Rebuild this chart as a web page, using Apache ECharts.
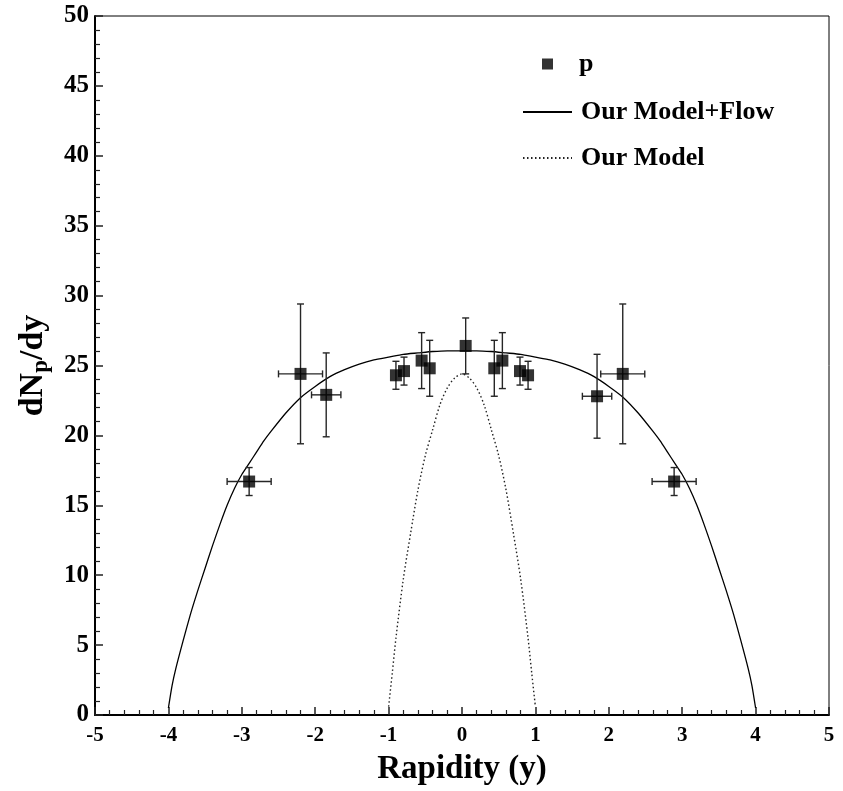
<!DOCTYPE html>
<html>
<head>
<meta charset="utf-8">
<script src="https://cdn.jsdelivr.net/npm/echarts@6/dist/echarts.min.js"></script>
<style>
  html, body { margin: 0; padding: 0; background: #fff; }
  #chart { width: 843px; height: 791px; }
</style>
</head>
<body>
<div id="chart"></div>
<script>
// measured points (proton rapidity distribution)
var rapidity = [-2.9, -2.2, -1.85, -0.9, -0.79, -0.55, -0.44, 0.05, 0.44, 0.55, 0.79, 0.9, 1.84, 2.19, 2.89];
var dndy     = [16.7, 24.4, 22.9, 24.3, 24.6, 25.35, 24.8, 26.4, 24.8, 25.35, 24.6, 24.3, 22.8, 24.4, 16.7];
var yErr     = [1.0, 5.0, 3.0, 1.0, 1.0, 2.0, 2.0, 2.0, 2.0, 2.0, 1.0, 1.0, 3.0, 5.0, 1.0];
var xErr     = [0.3, 0.3, 0.2, 0, 0, 0, 0, 0, 0, 0, 0, 0, 0.2, 0.3, 0.3];

// Our Model+Flow curve
var flowX = [-4.0, -3.95, -3.9, -3.8, -3.7, -3.6, -3.5, -3.4, -3.3, -3.2, -3.1, -3.0, -2.9, -2.8, -2.7, -2.6, -2.4, -2.2, -2.0, -1.8, -1.6, -1.4, -1.2, -1.0, -0.8, -0.6, -0.4, -0.2, 0,
             0.2, 0.4, 0.6, 0.8, 1.0, 1.2, 1.4, 1.6, 1.8, 2.0, 2.2, 2.4, 2.6, 2.7, 2.8, 2.9, 3.0, 3.1, 3.2, 3.3, 3.4, 3.5, 3.6, 3.7, 3.8, 3.9, 3.95, 4.0];
var flowY = [0.5, 2.1, 3.3, 5.3, 7.2, 8.9, 10.5, 12.1, 13.6, 15.0, 16.2, 17.2, 18.0, 18.8, 19.6, 20.3, 21.6, 22.7, 23.5, 24.2, 24.7, 25.1, 25.4, 25.6, 25.8, 25.9, 26.0, 26.05, 26.05,
             26.05, 26.0, 25.9, 25.8, 25.6, 25.4, 25.1, 24.7, 24.2, 23.5, 22.7, 21.6, 20.3, 19.6, 18.8, 18.0, 17.2, 16.2, 15.0, 13.6, 12.1, 10.5, 8.9, 7.2, 5.3, 3.3, 2.1, 0.5];

// Our Model curve (no flow)
var modelX = [-1.0, -0.95, -0.9, -0.8, -0.7, -0.6, -0.5, -0.4, -0.3, -0.2, -0.1, 0, 0.1, 0.2, 0.3, 0.4, 0.5, 0.6, 0.7, 0.8, 0.9, 0.95, 1.0];
var modelY = [0.6, 3.0, 5.5, 9.7, 13.0, 16.1, 18.55, 20.4, 22.2, 23.4, 24.1, 24.4, 24.1, 23.4, 22.2, 20.4, 18.55, 16.1, 13.0, 9.7, 5.5, 3.0, 0.6];

var xTicks = [-5, -4, -3, -2, -1, 0, 1, 2, 3, 4, 5];
var yTicks = [0, 5, 10, 15, 20, 25, 30, 35, 40, 45, 50];

var FONT = '"Liberation Serif", "Times New Roman", serif';

function zip(a, b) {
    return a.map(function(v, i) { return [v, b[i]]; });
}

var errData = rapidity.map(function(x, i) { return [x, dndy[i], xErr[i], yErr[i]]; });

var legendText = { fontFamily: FONT, fontWeight: 'bold', fontSize: 26, color: '#000' };

var option = {
    animation: false,
    backgroundColor: '#fff',
    grid: {
        left: 95, top: 16, right: 14, bottom: 73,
        show: true, borderColor: '#000', borderWidth: 1, backgroundColor: 'transparent'
    },
    legend: [{
        data: ['p'], left: 542, top: 51, padding: 0, icon: 'rect', itemWidth: 11, itemHeight: 11,
        textStyle: Object.assign({ padding: [0, 0, 0, 21] }, legendText)
    }, {
        data: ['Our Model+Flow'], left: 522, top: 99, padding: 0, itemWidth: 49, itemHeight: 12,
        itemStyle: { opacity: 0 },
        textStyle: Object.assign({ padding: [0, 0, 0, 4] }, legendText)
    }, {
        data: ['Our Model'], left: 522, top: 145, padding: 0, itemWidth: 49, itemHeight: 12,
        itemStyle: { opacity: 0 },
        textStyle: Object.assign({ padding: [0, 0, 0, 4] }, legendText)
    }],
    xAxis: {
        type: 'value', min: -5, max: 5, interval: 1,
        name: 'Rapidity (y)', nameLocation: 'middle', nameGap: 38,
        nameTextStyle: { fontFamily: FONT, fontWeight: 'bold', fontSize: 33, color: '#000' },
        axisLine: { onZero: false, lineStyle: { color: '#000', width: 2 } },
        axisTick: { inside: true, length: 8, lineStyle: { color: '#222', width: 1.5 } },
        minorTick: { show: true, splitNumber: 5, length: 5, lineStyle: { color: '#222', width: 1.2 } },
        splitLine: { show: false },
        axisLabel: {
            margin: 10, fontFamily: FONT, fontWeight: 'bold', fontSize: 21, color: '#000',
            formatter: function(v) { return xTicks.indexOf(v) >= 0 ? String(v) : ''; }
        }
    },
    yAxis: {
        type: 'value', min: 0, max: 50, interval: 5,
        name: '{a|dN}{b|p}{a|/dy}', nameLocation: 'middle', nameGap: 42,
        nameTextStyle: {
            rich: {
                a: { fontFamily: FONT, fontWeight: 'bold', fontSize: 34, color: '#000' },
                b: { fontFamily: FONT, fontWeight: 'bold', fontSize: 23, color: '#000', padding: [16, 0, 0, 0] }
            }
        },
        axisLine: { onZero: false, lineStyle: { color: '#000', width: 2 } },
        axisTick: { inside: true, length: 8, lineStyle: { color: '#222', width: 1.5 } },
        minorTick: { show: true, splitNumber: 5, length: 5, lineStyle: { color: '#222', width: 1.2 } },
        splitLine: { show: false },
        axisLabel: {
            margin: 6, fontFamily: FONT, fontWeight: 'bold', fontSize: 25, color: '#000',
            formatter: function(v) { return yTicks.indexOf(v) >= 0 ? String(v) : ''; }
        }
    },
    series: [{
        name: 'Our Model+Flow',
        type: 'line',
        data: zip(flowX, flowY),
        smooth: 0.2,
        symbol: 'none',
        lineStyle: { color: '#000', width: 1.3 },
        itemStyle: { color: '#000' },
        z: 3
    }, {
        name: 'Our Model',
        type: 'line',
        data: zip(modelX, modelY),
        smooth: 0.3,
        symbol: 'none',
        lineStyle: { color: '#222', width: 1.4, type: [1.5, 2.5] },
        itemStyle: { color: '#222' },
        z: 3
    }, {
        name: 'errors',
        type: 'custom',
        data: errData,
        z: 4,
        renderItem: function(params, api) {
            var x = api.value(0), y = api.value(1), ex = api.value(2), ey = api.value(3);
            var c = api.coord([x, y]);
            var top = api.coord([x, y + ey]);
            var bot = api.coord([x, y - ey]);
            var cap = 3.5;
            var style = { stroke: '#262626', lineWidth: 1.4 };
            var kids = [
                { type: 'line', shape: { x1: c[0], y1: top[1], x2: c[0], y2: bot[1] }, style: style },
                { type: 'line', shape: { x1: c[0] - cap, y1: top[1], x2: c[0] + cap, y2: top[1] }, style: style },
                { type: 'line', shape: { x1: c[0] - cap, y1: bot[1], x2: c[0] + cap, y2: bot[1] }, style: style }
            ];
            if (ex > 0) {
                var l = api.coord([x - ex, y]);
                var r = api.coord([x + ex, y]);
                kids.push(
                    { type: 'line', shape: { x1: l[0], y1: c[1], x2: r[0], y2: c[1] }, style: style },
                    { type: 'line', shape: { x1: l[0], y1: c[1] - cap, x2: l[0], y2: c[1] + cap }, style: style },
                    { type: 'line', shape: { x1: r[0], y1: c[1] - cap, x2: r[0], y2: c[1] + cap }, style: style }
                );
            }
            return { type: 'group', children: kids };
        }
    }, {
        name: 'p',
        type: 'scatter',
        data: zip(rapidity, dndy),
        symbol: 'rect',
        symbolSize: 12,
        itemStyle: { color: '#000', borderWidth: 0 },
        z: 5
    }]
};

var myChart = echarts.init(document.getElementById('chart'));
myChart.setOption(option);
</script>
</body>
</html>
